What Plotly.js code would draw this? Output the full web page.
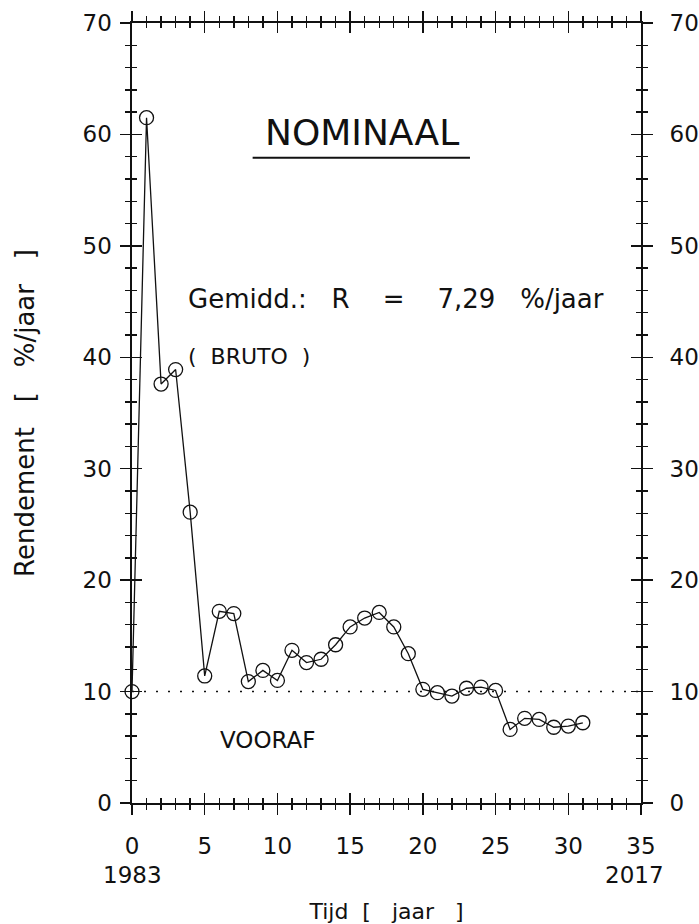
<!DOCTYPE html>
<html>
<head>
<meta charset="utf-8">
<script src="https://cdn.plot.ly/plotly-3.0.1.min.js"></script>
<style>html,body{margin:0;padding:0;background:#fff;}#chart{width:699px;height:924px;}</style>
</head>
<body>
<div id="chart"></div>
<script>
// Data
const years = [0,1,2,3,4,5,6,7,8,9,10,11,12,13,14,15,16,17,18,19,20,21,22,23,24,25,26,27,28,29,30,31];
const rendement = [10.0,61.5,37.6,38.9,26.1,11.4,17.2,17.0,10.9,11.9,11.0,13.7,12.6,12.9,14.2,15.8,16.6,17.1,15.8,13.4,10.2,9.9,9.6,10.3,10.4,10.1,6.6,7.6,7.5,6.8,6.9,7.2];
const refLevel = 10;         // "VOORAF" reference level
const xRange = [0, 35];
const yRange = [0, 70];
const xTickVals = [0,5,10,15,20,25,30,35];
const yTickVals = [0,10,20,30,40,50,60,70];
const startYear = "1983";
const endYear = "2017";
const titleText = "NOMINAAL";
const meanText = "Gemidd.:   R    =    7,29   %/jaar";
const brutoText = "(  BRUTO  )";
const voorafText = "VOORAF";

const FONT = "'DejaVu Sans'";
const INK = "#111";

const traces = [
  {
    x: xRange, y: [refLevel, refLevel],
    mode: "lines", line: {color: INK, width: 1.6, dash: "2px,10px"},
    hoverinfo: "skip", showlegend: false, cliponaxis: false
  },
  {
    x: years, y: rendement,
    mode: "lines+markers",
    line: {color: INK, width: 1.3},
    marker: {symbol: "circle-open", size: 14, color: INK, line: {width: 1.3, color: INK}},
    showlegend: false, cliponaxis: false
  },
  // invisible carrier traces so the overlay tick axes get drawn
  {
    x: xRange, y: yRange, xaxis: "x2", yaxis: "y2",
    mode: "markers", marker: {opacity: 0}, hoverinfo: "skip", showlegend: false
  },
  {
    x: xRange, y: yRange, xaxis: "x", yaxis: "y3",
    mode: "markers", marker: {opacity: 0}, hoverinfo: "skip", showlegend: false
  }
];

const tickFont = {family: FONT, size: 23, color: INK};
const majorLen = 10, minorLen = 5, tw = 1.4;

const baseX = {
  range: xRange, showgrid: false, zeroline: false, fixedrange: true,
  linecolor: INK, linewidth: 1.6, tickcolor: INK, tickwidth: tw
};
const baseY = {
  range: yRange, showgrid: false, zeroline: false, fixedrange: true,
  linecolor: INK, linewidth: 1.6, tickcolor: INK, tickwidth: tw
};

const layout = {
  width: 699, height: 924,
  margin: {l: 132, r: 58, t: 23, b: 121},
  paper_bgcolor: "#fff", plot_bgcolor: "rgba(0,0,0,0)",
  showlegend: false,
  font: {family: FONT, color: INK},
  xaxis: Object.assign({}, baseX, {
    showline: true, mirror: "ticks", ticks: "outside", ticklen: majorLen,
    tickmode: "array", tickvals: xTickVals, ticktext: xTickVals.map(String),
    tickfont: tickFont, ticklabelstandoff: 12,
    minor: {dtick: 1, ticks: "outside", ticklen: minorLen, tickwidth: tw, tickcolor: INK},
    title: {text: "Tijd  [   jaar   ]", font: {family: FONT, size: 22, color: INK}, standoff: 46}
  }),
  xaxis2: Object.assign({}, baseX, {
    overlaying: "x", anchor: "y2", side: "bottom",
    showline: false, mirror: "ticks", ticks: "inside", ticklen: majorLen,
    tickmode: "array", tickvals: xTickVals, showticklabels: false,
    minor: {dtick: 1, ticks: "inside", ticklen: minorLen, tickwidth: tw, tickcolor: INK}
  }),
  yaxis: Object.assign({}, baseY, {
    showline: true, mirror: "ticks", ticks: "outside", ticklen: majorLen,
    tickmode: "array", tickvals: yTickVals, ticktext: yTickVals.map(String),
    tickfont: tickFont, ticklabelstandoff: 4,
    minor: {dtick: 2, ticks: "outside", ticklen: minorLen, tickwidth: tw, tickcolor: INK},
    title: {text: "Rendement   [   %/jaar   ]", font: {family: FONT, size: 26, color: INK}, standoff: 40}
  }),
  yaxis2: Object.assign({}, baseY, {
    overlaying: "y", anchor: "x2", side: "left",
    showline: false, mirror: "ticks", ticks: "inside", ticklen: majorLen,
    tickmode: "array", tickvals: yTickVals, showticklabels: false,
    minor: {dtick: 2, ticks: "inside", ticklen: minorLen, tickwidth: tw, tickcolor: INK}
  }),
  yaxis3: Object.assign({}, baseY, {
    overlaying: "y", anchor: "x", side: "right",
    showline: false, ticks: "outside", ticklen: majorLen,
    tickmode: "array", tickvals: yTickVals, ticktext: yTickVals.map(String),
    tickfont: tickFont, ticklabelstandoff: 13
  }),
  shapes: [
    {type: "line", xref: "paper", yref: "paper", x0: 0.237, x1: 0.664, y0: 0.8273, y1: 0.8273,
     line: {color: INK, width: 2}}
  ],
  annotations: [
    {text: titleText, xref: "paper", yref: "paper", x: 0.4516, y: 0.8594, xanchor: "center", yanchor: "middle",
     showarrow: false, font: {family: FONT, size: 36, color: INK}},
    {text: meanText, xref: "paper", yref: "paper", x: 0.1056, y: 0.6465, xanchor: "left", yanchor: "middle",
     showarrow: false, font: {family: FONT, size: 26, color: INK}},
    {text: brutoText, xref: "paper", yref: "paper", x: 0.1056, y: 0.572, xanchor: "left", yanchor: "middle",
     showarrow: false, font: {family: FONT, size: 22, color: INK}},
    {text: voorafText, xref: "paper", yref: "paper", x: 0.1685, y: 0.0812, xanchor: "left", yanchor: "middle",
     showarrow: false, font: {family: FONT, size: 23, color: INK}},
    {text: startYear, xref: "x", yref: "paper", x: xRange[0], y: -0.0919, xanchor: "center", yanchor: "middle",
     showarrow: false, font: {family: FONT, size: 23, color: INK}},
    {text: endYear, xref: "x", yref: "paper", x: xRange[1], xshift: -7, y: -0.0919, xanchor: "center", yanchor: "middle",
     showarrow: false, font: {family: FONT, size: 23, color: INK}}
  ]
};

Plotly.newPlot("chart", traces, layout, {staticPlot: true, displayModeBar: false});
</script>
</body>
</html>
